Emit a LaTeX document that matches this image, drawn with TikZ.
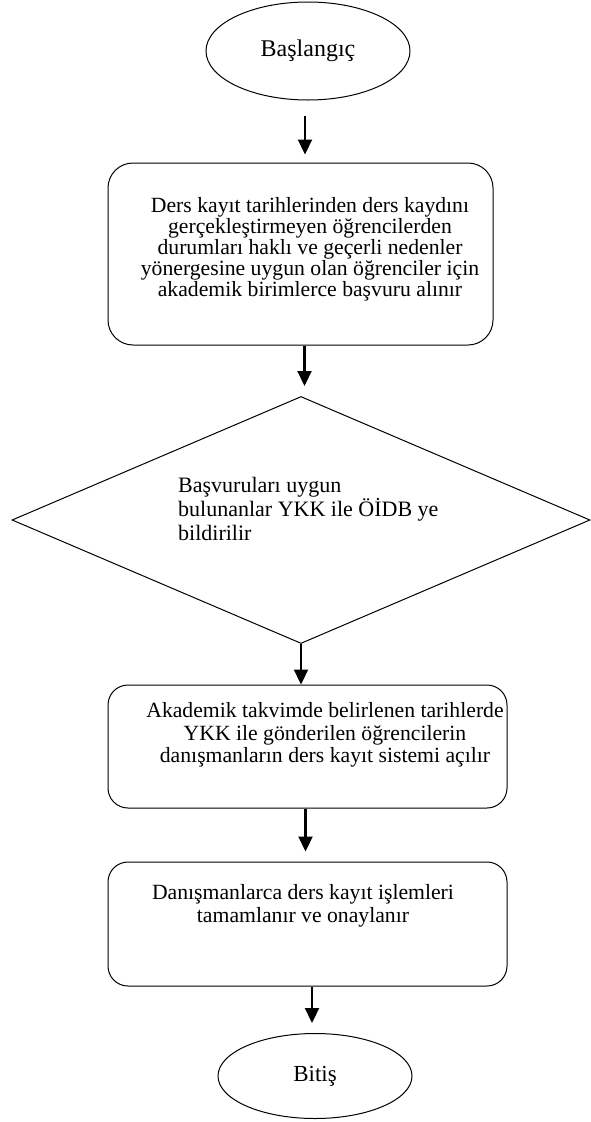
\documentclass[tikz,border=0pt]{standalone}
\usepackage{fontspec}
\setmainfont{Liberation Serif}
\usetikzlibrary{shapes.geometric,arrows.meta}

\begin{document}
\begin{tikzpicture}[x=1pt,y=-1pt,
    startstop/.style={draw, ellipse, line width=1pt, inner sep=0pt, font=\fontsize{23}{26}\selectfont},
    procbox/.style={draw, rectangle, rounded corners=20pt, line width=1pt, minimum width=399pt},
    decide/.style={draw, diamond, line width=1pt, inner sep=0pt},
    boxtext/.style={align=center, inner sep=0pt, font=\fontsize{21.7}{22.5}\selectfont},
    flowarrow/.style={line width=2.2pt, -{Triangle[width=14pt,length=15pt]}}]
    % Here I fix the page size
    \useasboundingbox (0,0) rectangle (590,1122);

    % start and end ellipses
    \node[startstop, minimum width=204pt, minimum height=98pt, font=\fontsize{24}{26}\selectfont] (start) at (308,51) {Başlangıç};
    \node[startstop, minimum width=194pt, minimum height=85pt] (fin) at (315,1076) {Bitiş};

    % Here is the boxes
    \node[procbox, rounded corners=25pt, minimum width=385pt, minimum height=182pt] (apply) at (300.5,254) {};
    \node[decide, minimum width=578pt, minimum height=247pt] (check) at (301,520) {};
    \node[procbox, minimum height=123pt] (open) at (307.5,746.5) {};
    \node[procbox, minimum height=124pt] (approve) at (307.5,924) {};

    % using node for text
    \node[boxtext, font=\fontsize{21.7}{21}\selectfont] (applytext) at (310,249) {Ders kayıt tarihlerinden ders kaydını\\
        gerçekleştirmeyen öğrencilerden\\ durumları haklı ve geçerli nedenler\\
        yönergesine uygun olan öğrenciler için\\ akademik birimlerce başvuru alınır};
    \node[boxtext, align=left, anchor=west, font=\fontsize{22}{24}\selectfont] (checktext) at (178,509) {Başvuruları uygun\\
        bulunanlar YKK ile ÖİDB ye\\ bildirilir};
    \node[boxtext] (opentext) at (325,735) {Akademik takvimde belirlenen tarihlerde\\
        YKK ile gönderilen öğrencilerin\\ danışmanların ders kayıt sistemi açılır};
    \node[boxtext, font=\fontsize{21.7}{23}\selectfont] (approvetext) at (303,906) {Danışmanlarca ders kayıt işlemleri\\
        tamamlanır ve onaylanır};

    % Here is the arrows
    \draw[flowarrow, shorten <=15pt, shorten >=8pt] ([xshift=-3pt]start.south) -- ([xshift=-3pt]start.south |- apply.north);
    \draw[flowarrow, shorten >=10pt] ([xshift=4pt]apply.south) -- ([xshift=4pt]apply.south |- check.north);
    \draw[flowarrow] (check.south) -- (check.south |- open.north);
    \draw[flowarrow, shorten >=10pt] ([xshift=-2pt]open.south) -- ([xshift=-2pt]open.south |- approve.north);
    \draw[flowarrow, shorten >=10pt] ([xshift=-3pt]fin.north |- approve.south) -- ([xshift=-3pt]fin.north);
\end{tikzpicture}
\end{document}
